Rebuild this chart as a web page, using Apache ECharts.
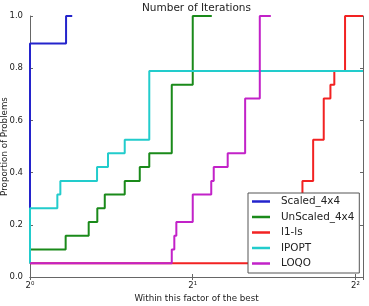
<!DOCTYPE html>
<html>
<head>
<meta charset="utf-8">
<script src="https://cdn.jsdelivr.net/npm/echarts@6/dist/echarts.min.js"></script>
<style>
  html, body { margin: 0; padding: 0; background: #fff; }
  #chart { width: 369px; height: 306px; }
</style>
</head>
<body>
<div id="chart"></div>
<script>
// performance profile, x = ratio to the best (log2 axis), y = proportion of problems
var names = ['Scaled_4x4', 'UnScaled_4x4', 'l1-ls', 'IPOPT', 'LOQO'];
var colors = ['#2424cc', '#1a8a1a', '#f22222', '#22cccc', '#c222c8'];

var scaledX = [1, 1, 1.166, 1.197];
var scaledY = [0.053, 0.895, 1, 1];

var unscaledX = [1, 1, 1.164, 1.284, 1.332, 1.375, 1.497, 1.596, 1.662, 1.829, 2.0, 2.169];
var unscaledY = [0.053, 0.105, 0.158, 0.211, 0.263, 0.316, 0.368, 0.421, 0.474, 0.737, 1, 1];

var l1lsX = [1, 3.191, 3.340, 3.494, 3.595, 3.655, 3.826, 4.13];
var l1lsY = [0.053, 0.368, 0.526, 0.684, 0.737, 0.789, 1, 1];

var ipoptX = [1, 1, 1.1235, 1.138, 1.3305, 1.394, 1.497, 1.662, 4.13];
var ipoptY = [0.053, 0.263, 0.316, 0.368, 0.421, 0.474, 0.526, 0.789, 0.789];

var loqoX = [1, 1.829, 1.849, 1.865, 2.0, 2.164, 2.187, 2.321, 2.5, 2.661, 2.789];
var loqoY = [0.053, 0.105, 0.158, 0.211, 0.316, 0.368, 0.421, 0.474, 0.684, 1, 1];

var yTicks = [0, 0.2, 0.4, 0.6, 0.8, 1.0];
var sup = { 0: '\u2070', 1: '\u00b9', 2: '\u00b2' };

function pairs(xs, ys) {
  var out = [];
  for (var i = 0; i < xs.length; i++) out.push([xs[i], ys[i]]);
  return out;
}

var allX = [scaledX, unscaledX, l1lsX, ipoptX, loqoX];
var allY = [scaledY, unscaledY, l1lsY, ipoptY, loqoY];

var series = [];
for (var i = 0; i < names.length; i++) {
  series.push({
    name: names[i],
    type: 'line',
    step: 'end',
    showSymbol: false,
    symbol: 'none',
    data: pairs(allX[i], allY[i]),
    lineStyle: { color: colors[i], width: 2 },
    itemStyle: { color: colors[i] },
    animation: false
  });
}

var font = 'DejaVu Sans';
var frame = { lineStyle: { color: '#666', width: 1 } };

var chart = echarts.init(document.getElementById('chart'));
chart.setOption({
  animation: false,
  title: {
    text: 'Number of Iterations',
    left: 196.5,
    textAlign: 'center',
    top: 3,
    padding: 0,
    textStyle: { fontFamily: font, fontSize: 10.5, fontWeight: 'normal', color: '#222' }
  },
  grid: { left: 30, right: 6, top: 16, bottom: 29, containLabel: false, outerBoundsMode: 'none' },
  legend: {
    orient: 'vertical',
    left: 248,
    top: 193,
    data: names,
    icon: 'rect',
    itemWidth: 18,
    itemHeight: 2.5,
    itemGap: 2.5,
    padding: [2, 5, 3, 4],
    backgroundColor: '#fff',
    borderColor: '#555',
    borderWidth: 1,
    borderRadius: 0,
    textStyle: { fontFamily: font, fontSize: 10.4, color: '#222', lineHeight: 13, padding: [0, 0, 0, 6] }
  },
  xAxis: [{
    type: 'log',
    logBase: 2,
    min: 1,
    max: 4.13,
    name: 'Within this factor of the best',
    nameLocation: 'middle',
    nameGap: 17,
    nameMoveOverlap: false,
    nameTextStyle: { fontFamily: font, fontSize: 8.7, color: '#222' },
    axisLine: frame,
    axisTick: { inside: true, length: 3, lineStyle: { color: '#666' } },
    splitLine: { show: false },
    axisLabel: {
      fontFamily: font, fontSize: 8.5, color: '#222', margin: 4,
      showMaxLabel: false,
      formatter: function (v) {
        var e = Math.round(Math.log2(v));
        if (Math.abs(Math.log2(v) - e) > 1e-6) return '';
        return '2' + sup[e];
      }
    }
  }, {
    type: 'log',
    logBase: 2,
    min: 1,
    max: 4.13,
    position: 'top',
    axisLine: frame,
    axisTick: { inside: true, length: 3, lineStyle: { color: '#666' } },
    axisLabel: { show: false },
    splitLine: { show: false }
  }],
  yAxis: [{
    type: 'value',
    min: yTicks[0],
    max: yTicks[yTicks.length - 1],
    interval: 0.2,
    name: 'Proportion of Problems',
    nameLocation: 'middle',
    nameGap: 21,
    nameMoveOverlap: false,
    nameTextStyle: { fontFamily: font, fontSize: 8.7, color: '#222' },
    axisLine: { show: true, lineStyle: { color: '#666', width: 1 } },
    axisTick: { show: true, inside: true, length: 3, lineStyle: { color: '#666' } },
    splitLine: { show: false },
    axisLabel: {
      fontFamily: font, fontSize: 8.5, color: '#222', margin: 7,
      formatter: function (v) { return v.toFixed(1); }
    }
  }, {
    type: 'value',
    min: 0,
    max: 1,
    interval: 0.2,
    position: 'right',
    axisLine: { show: true, lineStyle: { color: '#666', width: 1 } },
    axisTick: { show: true, inside: true, length: 3, lineStyle: { color: '#666' } },
    axisLabel: { show: false },
    splitLine: { show: false }
  }],
  series: series
});
</script>
</body>
</html>
